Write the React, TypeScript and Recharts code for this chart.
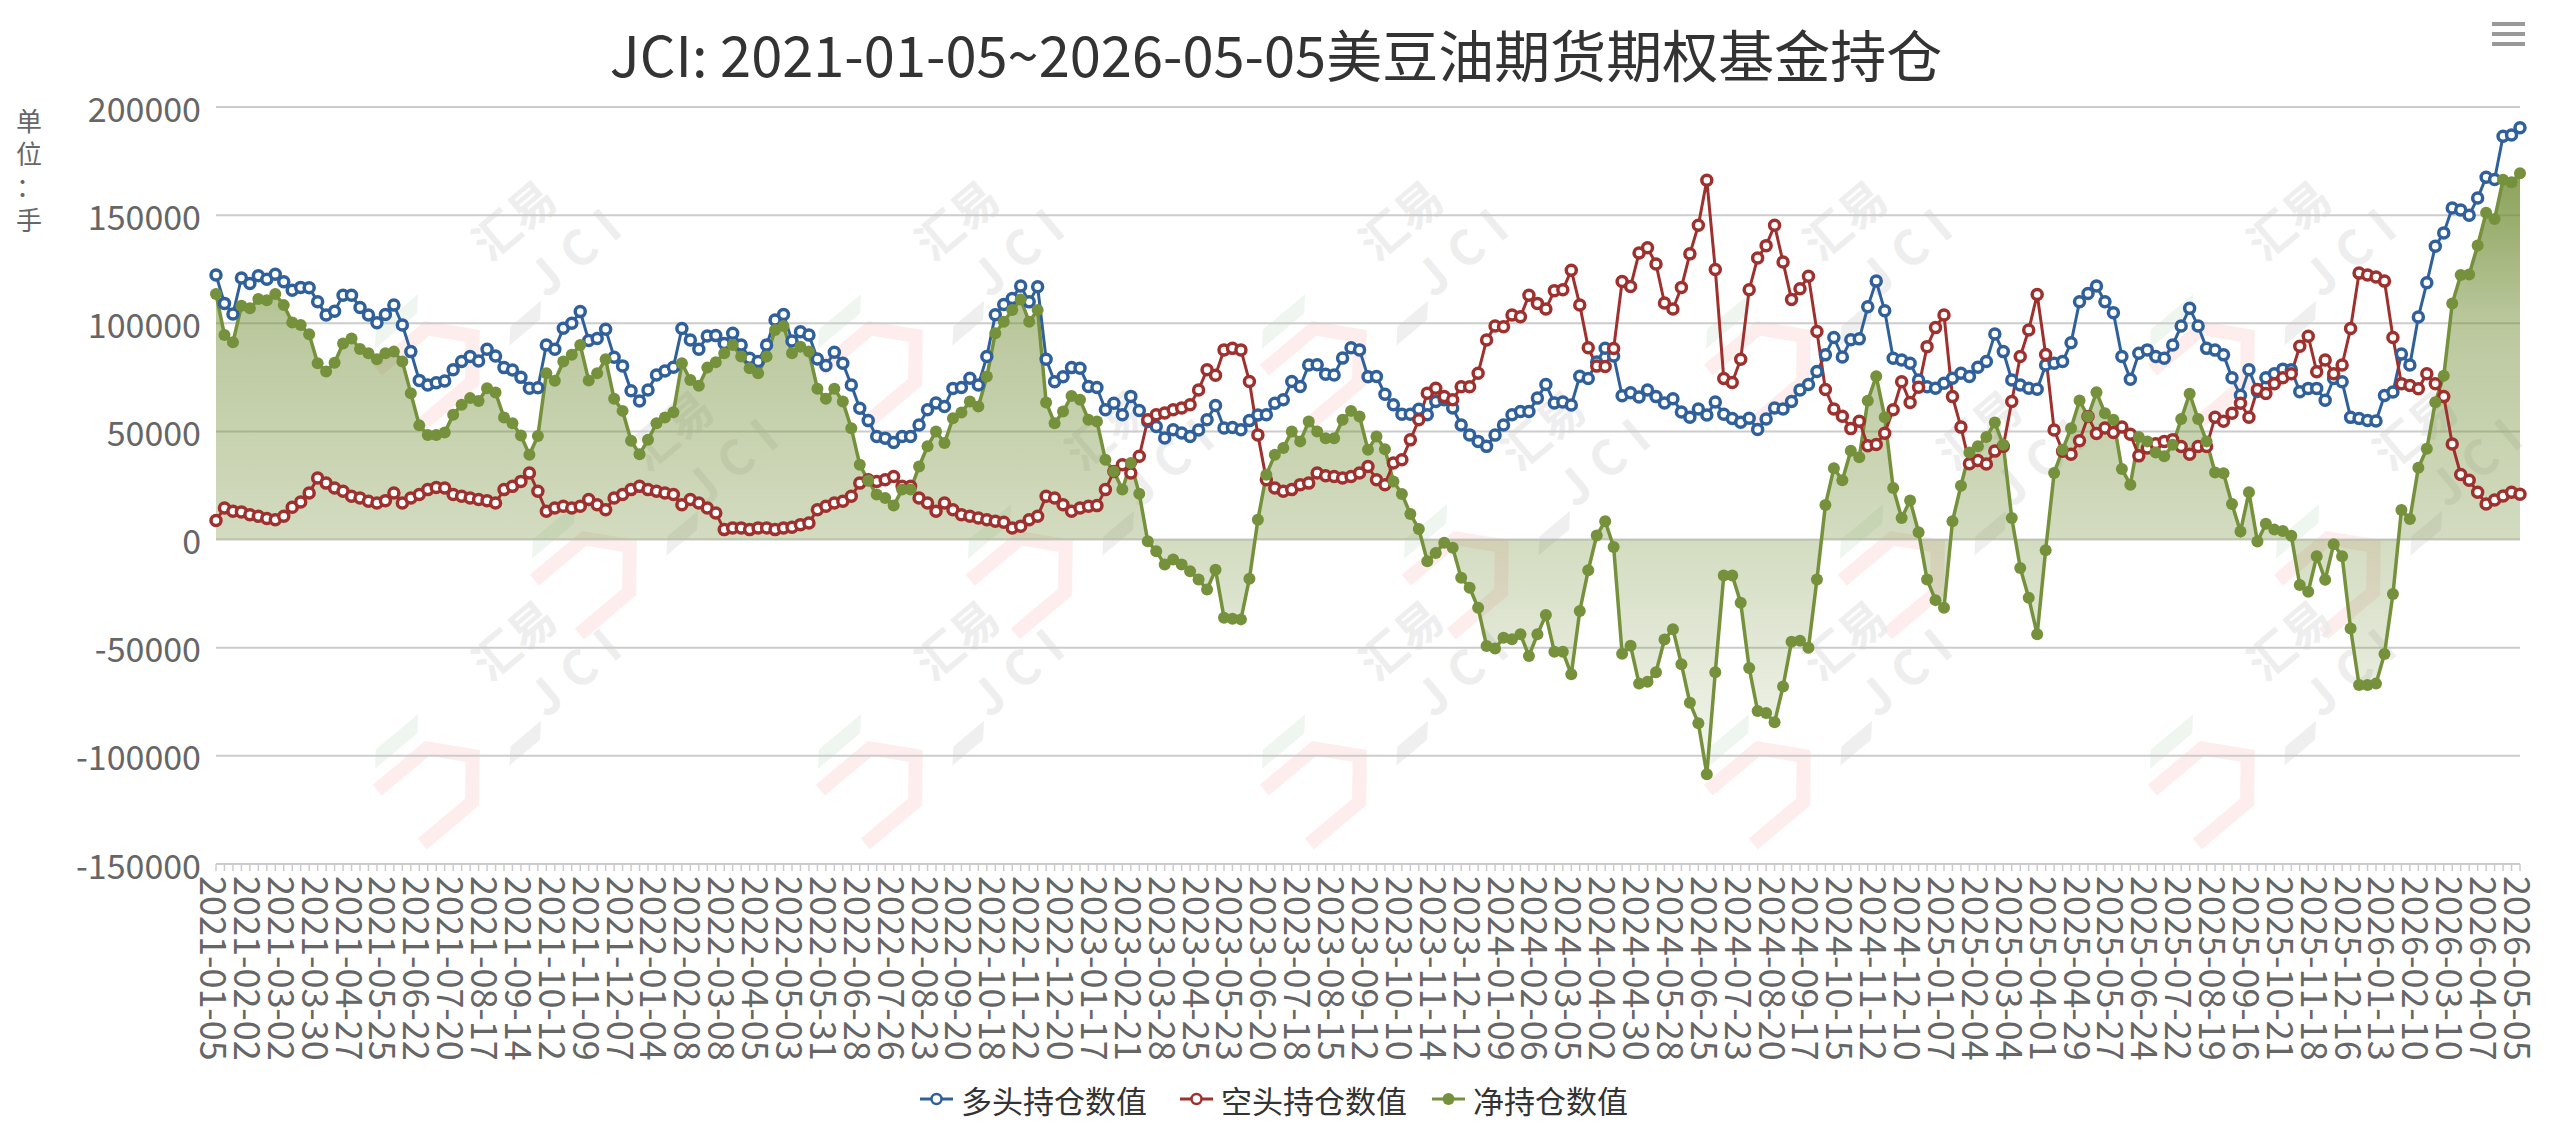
import React from 'react'
import { ComposedChart, Line, Area, XAxis, YAxis, CartesianGrid } from 'recharts'

// every 4th week is labelled on the axis
const tickDates = [
  '2021-01-05', '2021-02-02', '2021-03-02', '2021-03-30', '2021-04-27', '2021-05-25', '2021-06-22',
  '2021-07-20', '2021-08-17', '2021-09-14', '2021-10-12', '2021-11-09', '2021-12-07', '2022-01-04',
  '2022-02-08', '2022-03-08', '2022-04-05', '2022-05-03', '2022-05-31', '2022-06-28', '2022-07-26',
  '2022-08-23', '2022-09-20', '2022-10-18', '2022-11-22', '2022-12-20', '2023-01-17', '2023-02-21',
  '2023-03-28', '2023-04-25', '2023-05-23', '2023-06-20', '2023-07-18', '2023-08-15', '2023-09-12',
  '2023-10-10', '2023-11-14', '2023-12-12', '2024-01-09', '2024-02-06', '2024-03-05', '2024-04-02',
  '2024-04-30', '2024-05-28', '2024-06-25', '2024-07-23', '2024-08-20', '2024-09-17', '2024-10-15',
  '2024-11-12', '2024-12-10', '2025-01-07', '2025-02-04', '2025-03-04', '2025-04-01', '2025-04-29',
  '2025-05-27', '2025-06-24', '2025-07-22', '2025-08-19', '2025-09-16', '2025-10-21', '2025-11-18',
  '2025-12-16', '2026-01-13', '2026-02-10', '2026-03-10', '2026-04-07', '2026-05-05',
]

// 多头持仓数值
const longVals = [
  122300, 109200, 104300, 120900, 118400, 122000, 120400, 122700, 119200, 115300,
  116600, 116400, 110000, 103800, 105600, 113000, 113000, 107300, 103800, 100300,
  104100, 108400, 99200, 86900, 73600, 71500, 72500, 73300, 78500, 82300,
  84600, 82600, 88000, 84900, 79500, 78400, 75000, 70000, 70200, 90000,
  88000, 97700, 100000, 105400, 92000, 93000, 97200, 84300, 80300, 68800,
  64100, 69200, 76100, 77900, 79700, 97600, 92300, 88000, 94100, 94300,
  90700, 95400, 90000, 83800, 82300, 90000, 101500, 104100, 91800, 96100,
  94600, 83500, 80500, 86600, 81500, 71500, 60700, 55000, 47700, 46900,
  44900, 47700, 47700, 53000, 60000, 63100, 61500, 69900, 70300, 74600,
  71500, 84600, 103900, 108700, 111500, 117200, 109900, 116900, 83400, 73000,
  75300, 79500, 79200, 70800, 70300, 60000, 63000, 57700, 66200, 59700,
  54600, 52300, 47000, 50800, 49300, 47700, 50700, 55400, 62000, 51600,
  51800, 50800, 55000, 57600, 57700, 63000, 64600, 73100, 70800, 80700,
  80800, 76400, 76100, 83900, 88700, 87700, 75300, 75400, 67200, 62300,
  58000, 57900, 60300, 57700, 63800, 64600, 60800, 53000, 48400, 45400,
  43100, 48300, 53000, 57700, 59200, 59200, 65400, 71700, 63200, 63600,
  62200, 75500, 74500, 82100, 88500, 84900, 66500, 67900, 65900, 69200,
  66100, 63200, 65100, 59000, 56600, 60400, 57600, 63600, 57900, 56000,
  54200, 56100, 50900, 55700, 60800, 60400, 63800, 69200, 71700, 77700,
  85400, 93400, 84400, 92400, 92800, 107600, 119500, 105800, 83800, 83000,
  81500, 73800, 70700, 70000, 72300, 74600, 76900, 75400, 79700, 82300,
  95000, 86900, 73800, 71500, 70000, 69500, 80700, 81500, 82300, 91000,
  110000, 113800, 117200, 110000, 104900, 84600, 74100, 86100, 87700, 84600,
  83800, 90000, 98700, 106900, 98700, 88400, 87600, 85400, 74800, 66700,
  78500, 68500, 74800, 76700, 78800, 78500, 68400, 69900, 69900, 64400,
  74500, 73000, 56500, 56000, 55100, 54800, 66600, 68200, 85800, 80700,
  102900, 118700, 135600, 141800, 153300, 152400, 150000, 157900, 167500, 166500,
  186500, 187100, 190400,
]

// 空头持仓数值
const shortVals = [
  8800, 14600, 13100, 12800, 11500, 10800, 9700, 9200, 10800, 14900,
  17400, 21500, 28500, 26100, 23800, 22300, 20000, 19200, 17700, 16900,
  18000, 21500, 16900, 19200, 20800, 23100, 24100, 23800, 20800, 20000,
  19200, 18500, 18000, 16900, 23100, 24600, 26900, 30800, 22300, 13100,
  14600, 15400, 14600, 15400, 18500, 16100, 13800, 19200, 20800, 23100,
  24600, 23100, 22300, 21500, 20800, 16100, 18500, 16900, 14600, 12300,
  4600, 5400, 5400, 4600, 5400, 5400, 4600, 5400, 5700, 6900,
  7700, 13800, 15400, 16900, 17700, 20000, 26100, 27700, 26900, 27700,
  29200, 24600, 24600, 19200, 16900, 13100, 16900, 13800, 11500, 10800,
  10000, 9200, 8500, 8000, 5400, 6200, 9200, 10800, 20000, 19200,
  16100, 13100, 14600, 15400, 15700, 23100, 31500, 34600, 30800, 38500,
  55400, 57700, 58500, 60000, 60800, 62300, 69200, 78500, 76000, 87700,
  88400, 87700, 73100, 48400, 27700, 23800, 22300, 23100, 25400, 26100,
  30800, 29500, 29200, 28500, 29200, 30800, 33800, 27700, 25400, 35400,
  36900, 46100, 55400, 67700, 70000, 66100, 64600, 70700, 70700, 76900,
  92300, 98700, 98400, 103800, 103000, 113000, 109200, 106600, 115100, 115500,
  124500, 108500, 88700, 80200, 80000, 88300, 119300, 117000, 132500, 134900,
  127400, 109400, 106600, 116600, 132100, 145300, 166100, 124900, 74500, 72600,
  83400, 115500, 130200, 135900, 145300, 128300, 111000, 116000, 121700, 96200,
  69400, 60400, 57000, 51300, 54700, 43400, 44000, 49200, 60000, 73000,
  63400, 70400, 89200, 98000, 103800, 66100, 52000, 35100, 36600, 34900,
  40900, 43100, 63800, 84600, 96900, 113300, 85600, 50700, 40800, 39500,
  45700, 56900, 49100, 51600, 49500, 52000, 48700, 38700, 42300, 44300,
  45300, 46200, 43000, 39500, 43000, 43000, 56600, 54700, 58400, 63000,
  56600, 69400, 67500, 72100, 74800, 76700, 89400, 94000, 77600, 83000,
  76700, 80700, 97600, 123200, 122300, 121400, 119500, 93400, 72100, 71200,
  69700, 76700, 72100, 66100, 44200, 30100, 27400, 21900, 16400, 18300,
  20100, 21900, 21000,
]

// 净持仓数值
const netVals = [
  113500, 94600, 91200, 108100, 106900, 111200, 110700, 113500, 108400, 100400,
  99200, 94900, 81500, 77700, 81800, 90700, 93000, 88100, 86100, 83400,
  86100, 86900, 82300, 67700, 52800, 48400, 48400, 49500, 57700, 62300,
  65400, 64100, 70000, 68000, 56400, 53800, 48100, 39200, 47900, 76900,
  73400, 82300, 85400, 90000, 73500, 76900, 83400, 65100, 59500, 45700,
  39500, 46100, 53800, 56400, 58900, 81500, 73800, 71100, 79500, 82000,
  86100, 90000, 84600, 79200, 76900, 84600, 96900, 98700, 86100, 89200,
  86900, 69700, 65100, 69700, 63800, 51500, 34600, 27300, 20800, 19200,
  15700, 23100, 23100, 33800, 43100, 50000, 44600, 56100, 58800, 63800,
  61500, 75400, 95400, 100700, 106100, 111000, 100700, 106100, 63400, 53800,
  59200, 66400, 64600, 55400, 54600, 36900, 31500, 23100, 35400, 21200,
  -800, -5400, -11500, -9200, -11500, -14600, -18500, -23100, -14000, -36100,
  -36600, -36900, -18100, 9200, 30000, 39200, 42300, 50000, 45400, 54600,
  50000, 46900, 46900, 55400, 59500, 56900, 41500, 47700, 41800, 26900,
  21100, 11800, 4900, -10000, -6200, -1500, -3800, -17700, -22300, -31500,
  -49200, -50400, -45400, -46100, -43800, -53800, -43800, -34900, -51900, -51900,
  -62300, -33000, -14200, 1900, 8500, -3400, -52800, -49100, -66600, -65700,
  -61300, -46200, -41500, -57600, -75500, -84900, -108500, -61300, -16600, -16600,
  -29200, -59400, -79300, -80200, -84500, -67900, -47200, -46800, -50000, -18500,
  16000, 33000, 27400, 41100, 38100, 64200, 75500, 56600, 23800, 10000,
  18100, 3400, -18500, -28000, -31500, 8500, 24900, 40300, 43100, 47400,
  54100, 43800, 10000, -13100, -26900, -43800, -4900, 30800, 41500, 51500,
  64300, 56900, 68100, 58400, 55400, 32600, 25400, 47400, 45400, 40300,
  38500, 43800, 55700, 67400, 55700, 45400, 31000, 30700, 16400, 3700,
  21900, -900, 7300, 4600, 4000, 1800, -21000, -24100, -7700, -18600,
  -2200, -7700, -41100, -67200, -67200, -66600, -52900, -25200, 13700, 9500,
  33200, 42000, 63500, 75700, 109100, 122300, 122600, 136000, 151100, 148200,
  166400, 165200, 169400,
]

const yTicks = [-150000, -100000, -50000, 0, 50000, 100000, 150000, 200000]

const BLUE = '#30609b'
const RED = '#9e302d'
const GREEN = '#76913c'
const FONT = '"Noto Sans CJK SC", "Noto Sans", sans-serif'
const PLOT_BOTTOM = 864

function addDays(s: string, n: number) {
  const d = new Date(s + 'T00:00:00Z')
  d.setUTCDate(d.getUTCDate() + n)
  return d.toISOString().slice(0, 10)
}

// weekly categories between the labelled dates
const dates: string[] = []
tickDates.forEach((t, k) => {
  dates.push(t)
  if (k < tickDates.length - 1) {
    for (let w = 1; w < 4; w++) dates.push(addDays(t, 7 * w))
  }
})

const data = dates.map((date, i) => ({
  date,
  long: longVals[i],
  short: shortVals[i],
  net: netVals[i],
}))

const labelSet = new Set(tickDates)

function DateTick(props: any) {
  const { x, payload } = props
  const ty = PLOT_BOTTOM + 12
  return (
    <g>
      <line x1={x} y1={PLOT_BOTTOM} x2={x} y2={PLOT_BOTTOM + 7} stroke="#cccccc" strokeWidth={1.5} />
      {labelSet.has(payload.value) && (
        <text
          x={x}
          y={ty}
          transform={`rotate(90 ${x} ${ty})`}
          textAnchor="start"
          dominantBaseline="central"
          fontSize={36}
          fill="#666"
          fontFamily={FONT}
        >
          {payload.value}
        </text>
      )}
    </g>
  )
}

function ValueTick(props: any) {
  const { x, y, payload } = props
  return (
    <text x={x} y={y} textAnchor="end" dominantBaseline="central" fontSize={34} fill="#666" fontFamily={FONT}>
      {payload.value}
    </text>
  )
}

const legendItems = [
  { name: '多头持仓数值', color: BLUE, hollow: true, x: 920 },
  { name: '空头持仓数值', color: RED, hollow: true, x: 1180 },
  { name: '净持仓数值', color: GREEN, hollow: false, x: 1432 },
]

const marks = [
  [505, 250], [948, 250], [1392, 250], [1836, 250], [2280, 250],
  [662, 460], [1098, 460], [1534, 460], [1970, 460], [2406, 460],
  [505, 670], [948, 670], [1392, 670], [1836, 670], [2280, 670],
]

function Watermark({ cx, cy }: { cx: number; cy: number }) {
  return (
    <g transform={`translate(${cx} ${cy}) rotate(-40)`} opacity={0.8}>
      <path d="M -175 10 L -110 10 L -80 45 L -110 80 L -175 80" fill="none" stroke="#fde9e9" strokeWidth={14} />
      <path d="M -150 -22 L -95 -22 L -108 -8 L -163 -8 Z" fill="#eaf4ec" />
      <path d="M -45 62 L -5 62 L -18 76 L -58 76 Z" fill="#ececec" />
      <text x={-20} y={0} fontSize={46} fill="#ebebeb" fontFamily={FONT} fontWeight={700}>汇易</text>
      <text x={0} y={64} fontSize={48} fill="#ebebeb" fontFamily={FONT} fontWeight={700} letterSpacing={14}>JCI</text>
    </g>
  )
}

export default function App() {
  return (
    <div style={{ position: 'relative', width: 2552, height: 1125, background: '#fff', fontFamily: FONT }}>
      <style>{'body{margin:0}'}</style>
      <svg width={2552} height={1125} style={{ position: 'absolute', left: 0, top: 0 }}>
        {marks.map(([cx, cy], i) => (
          <Watermark key={i} cx={cx} cy={cy} />
        ))}
      </svg>
      <div style={{ position: 'absolute', left: 0, top: 0 }}>
        <ComposedChart width={2552} height={1125} data={data} margin={{ top: 107, right: 32, bottom: 0, left: 0 }}>
          <defs>
            <linearGradient id="netFill" x1="0" y1="0" x2="0" y2="1">
              <stop offset="0" stopColor={GREEN} stopOpacity={0.85} />
              <stop offset="0.25" stopColor={GREEN} stopOpacity={0.5} />
              <stop offset="0.61" stopColor={GREEN} stopOpacity={0.32} />
              <stop offset="1" stopColor={GREEN} stopOpacity={0.08} />
            </linearGradient>
          </defs>
          <CartesianGrid vertical={false} stroke="#cccccc" strokeWidth={2} />
          <XAxis
            dataKey="date"
            scale="point"
            interval={0}
            padding={{ left: 0, right: 0 }}
            height={261}
            tickLine={false}
            axisLine={{ stroke: '#cccccc', strokeWidth: 2 }}
            tick={<DateTick />}
          />
          <YAxis
            type="number"
            domain={[-150000, 200000]}
            ticks={yTicks}
            width={216}
            axisLine={false}
            tickLine={false}
            tickMargin={9}
            tick={<ValueTick />}
          />
          <Line
            type="linear"
            dataKey="long"
            stroke={BLUE}
            strokeWidth={3}
            dot={{ r: 5, fill: '#fff', stroke: BLUE, strokeWidth: 3.5 }}
            activeDot={false}
            isAnimationActive={false}
          />
          <Line
            type="linear"
            dataKey="short"
            stroke={RED}
            strokeWidth={3}
            dot={{ r: 5, fill: '#fff', stroke: RED, strokeWidth: 3.5 }}
            activeDot={false}
            isAnimationActive={false}
          />
          <Area
            type="linear"
            dataKey="net"
            stroke={GREEN}
            strokeWidth={3.5}
            fill="url(#netFill)"
            fillOpacity={1}
            dot={{ r: 6, fill: GREEN, stroke: GREEN, strokeWidth: 0 }}
            activeDot={false}
            isAnimationActive={false}
          />
        </ComposedChart>
      </div>
      <svg width={2552} height={1125} style={{ position: 'absolute', left: 0, top: 0, pointerEvents: 'none' }}>
        <text x={1276} y={77} textAnchor="middle" fontSize={56} fill="#333" fontFamily={FONT}>
          JCI: 2021-01-05~2026-05-05美豆油期货期权基金持仓
        </text>
        {['单', '位', '：', '手'].map((ch, i) => (
          <text key={i} x={29} y={131 + i * 33} textAnchor="middle" fontSize={26} fill="#666" fontFamily={FONT}>
            {ch}
          </text>
        ))}
        <rect x={2492} y={22} width={33} height={4} fill="#999" />
        <rect x={2492} y={32} width={33} height={4} fill="#999" />
        <rect x={2492} y={42} width={33} height={4} fill="#999" />
        {legendItems.map((it) => (
          <g key={it.name}>
            <line x1={it.x} y1={1099} x2={it.x + 33} y2={1099} stroke={it.color} strokeWidth={3} />
            <circle
              cx={it.x + 16.5}
              cy={1099}
              r={it.hollow ? 5 : 6}
              fill={it.hollow ? '#fff' : it.color}
              stroke={it.color}
              strokeWidth={it.hollow ? 2.5 : 0}
            />
            <text x={it.x + 41} y={1099} dominantBaseline="central" fontSize={31} fill="#333" fontFamily={FONT}>
              {it.name}
            </text>
          </g>
        ))}
      </svg>
    </div>
  )
}
